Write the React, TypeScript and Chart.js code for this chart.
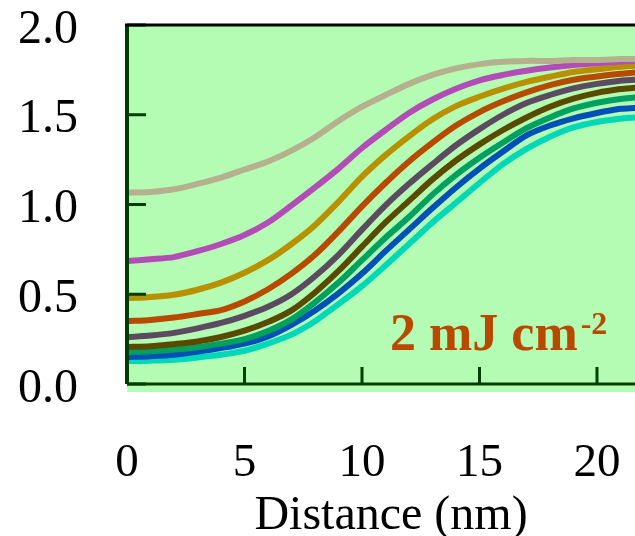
import React, { useEffect, useRef } from "react";
import { Chart, registerables } from "chart.js";

Chart.register(...registerables);

// ---- data ----
const distance = [0, 1, 2, 3, 4, 5, 6, 7, 8, 9, 10, 11, 12, 13, 14, 15, 16, 17, 18, 19, 20, 21, 21.6];

const curveTan = [1.065, 1.07, 1.085, 1.115, 1.15, 1.195, 1.24, 1.3, 1.375, 1.465, 1.545, 1.61, 1.672, 1.722, 1.758, 1.782, 1.795, 1.8, 1.8, 1.805, 1.805, 1.81, 1.81];
const curveMagenta = [0.685, 0.695, 0.707, 0.74, 0.78, 0.83, 0.9, 0.995, 1.095, 1.2, 1.315, 1.415, 1.51, 1.585, 1.645, 1.692, 1.722, 1.745, 1.763, 1.777, 1.787, 1.797, 1.8];
const curveGold = [0.478, 0.485, 0.497, 0.525, 0.565, 0.62, 0.69, 0.78, 0.885, 1.015, 1.155, 1.275, 1.38, 1.475, 1.548, 1.6, 1.645, 1.683, 1.712, 1.738, 1.753, 1.767, 1.773];
const curveOrange = [0.35, 0.357, 0.37, 0.39, 0.412, 0.46, 0.528, 0.615, 0.72, 0.85, 0.99, 1.12, 1.24, 1.345, 1.44, 1.515, 1.575, 1.625, 1.665, 1.695, 1.713, 1.728, 1.735];
const curvePurple = [0.261, 0.27, 0.285, 0.31, 0.34, 0.38, 0.43, 0.5, 0.6, 0.72, 0.86, 0.995, 1.115, 1.225, 1.33, 1.42, 1.5, 1.565, 1.61, 1.647, 1.672, 1.69, 1.695];
const curveOlive = [0.206, 0.21, 0.222, 0.237, 0.262, 0.297, 0.345, 0.41, 0.51, 0.63, 0.765, 0.9, 1.02, 1.14, 1.245, 1.335, 1.415, 1.485, 1.545, 1.59, 1.622, 1.643, 1.65];
const curveGreen = [0.178, 0.183, 0.192, 0.205, 0.225, 0.25, 0.295, 0.36, 0.455, 0.565, 0.69, 0.815, 0.93, 1.055, 1.165, 1.26, 1.345, 1.425, 1.485, 1.535, 1.567, 1.588, 1.596];
const curveBlue = [0.15, 0.155, 0.163, 0.18, 0.2, 0.225, 0.265, 0.33, 0.41, 0.505, 0.615, 0.74, 0.86, 0.98, 1.095, 1.2, 1.295, 1.385, 1.44, 1.48, 1.51, 1.533, 1.538];
const curveCyan = [0.128, 0.13, 0.135, 0.148, 0.163, 0.185, 0.225, 0.275, 0.35, 0.445, 0.545, 0.66, 0.78, 0.9, 1.01, 1.12, 1.225, 1.31, 1.378, 1.43, 1.46, 1.478, 1.485];

const seriesValues = [curveTan, curveMagenta, curveGold, curveOrange, curvePurple, curveOlive, curveGreen, curveBlue, curveCyan];
const seriesColors = ["#b5b08e", "#b44cb8", "#b89000", "#b84a00", "#5c4a60", "#5a4a00", "#00a060", "#0050b8", "#00d8b8"];

const yTicks = [0, 0.5, 1.0, 1.5, 2.0];
const xTicks = [0, 5, 10, 15, 20];
const xTitle = "Distance (nm)";
const noteMain = "2 mJ cm";
const noteSup = "-2";

const BG = "#b4fcb4";
const AXIS = "#003d00";
const SERIF = '"Liberation Serif", "Times New Roman", serif';

const decor = {
  id: "decor",
  beforeDraw(chart: any) {
    const { ctx, chartArea } = chart;
    const { left, top, right, bottom } = chartArea;
    ctx.save();
    ctx.fillStyle = BG;
    ctx.fillRect(left, top, right - left, bottom - top + 8);
    ctx.restore();
  },
  afterDatasetsDraw(chart: any) {
    const { ctx, chartArea } = chart;
    const { left, top, right, bottom } = chartArea;
    const xs = chart.scales.x;
    const ys = chart.scales.y;
    ctx.save();
    ctx.strokeStyle = AXIS;
    ctx.lineWidth = 3;
    ctx.lineCap = "butt";
    ys.ticks.forEach((t: any) => {
      const py = ys.getPixelForValue(t.value);
      ctx.beginPath();
      ctx.moveTo(left, py);
      ctx.lineTo(left + 19, py);
      ctx.stroke();
    });
    xs.ticks.forEach((t: any) => {
      const px = xs.getPixelForValue(t.value);
      ctx.beginPath();
      ctx.moveTo(px, bottom);
      ctx.lineTo(px, bottom - 17);
      ctx.stroke();
    });
    // left & bottom axes
    ctx.lineWidth = 4;
    ctx.beginPath();
    ctx.moveTo(left, top);
    ctx.lineTo(left, bottom);
    ctx.stroke();
    ctx.lineWidth = 3;
    ctx.beginPath();
    ctx.moveTo(left, bottom);
    ctx.lineTo(right, bottom);
    ctx.stroke();
    // top border
    ctx.strokeStyle = "#000000";
    ctx.lineWidth = 3;
    ctx.beginPath();
    ctx.moveTo(left - 2, top);
    ctx.lineTo(right, top);
    ctx.stroke();
    // annotation
    ctx.fillStyle = "#b84a00";
    ctx.textAlign = "left";
    ctx.textBaseline = "alphabetic";
    ctx.font = `bold 52px ${SERIF}`;
    const x0 = 390;
    ctx.fillText(noteMain, x0, 350);
    const w = ctx.measureText(noteMain).width;
    ctx.font = `bold 32px ${SERIF}`;
    ctx.fillText(noteSup, x0 + w + 3, 334);
    ctx.restore();
  },
};

export default function App() {
  const ref = useRef<HTMLCanvasElement | null>(null);

  useEffect(() => {
    if (!ref.current) return;
    const datasets = seriesValues.map((vals, i) => ({
      label: `s${i}`,
      data: vals.map((v, j) => ({ x: distance[j], y: v })),
      borderColor: seriesColors[i],
      backgroundColor: seriesColors[i],
      borderWidth: 6,
      pointRadius: 0,
      tension: 0.3,
      fill: false,
      borderCapStyle: "round" as const,
    }));
    const chart = new Chart(ref.current, {
      type: "line",
      data: { datasets },
      options: {
        responsive: false,
        animation: false,
        layout: { padding: { top: 25, left: 0, right: 0, bottom: 0 } },
        plugins: { legend: { display: false }, tooltip: { enabled: false } },
        scales: {
          x: {
            type: "linear",
            min: 0,
            max: (655 - 127) / 23.5,
            afterBuildTicks: (s: any) => {
              s.ticks = xTicks.map((v) => ({ value: v }));
            },
            afterFit: (s: any) => {
              s.height = 152;
              s.paddingLeft = 0;
              s.paddingRight = 0;
            },
            grid: { display: false, drawTicks: false },
            border: { display: false },
            ticks: {
              padding: 51,
              color: "#000",
              font: { family: SERIF, size: 47 },
              maxRotation: 0,
              callback: (v: any) => String(v),
            },
            title: {
              display: true,
              text: xTitle,
              color: "#000",
              font: { family: SERIF, size: 48, lineHeight: 0.8 },
              padding: 0,
            },
          },
          y: {
            min: 0,
            max: 2,
            afterBuildTicks: (s: any) => {
              s.ticks = yTicks.map((v) => ({ value: v }));
            },
            afterFit: (s: any) => {
              s.width = 127;
              s.paddingTop = 0;
              s.paddingBottom = 0;
            },
            grid: { display: false, drawTicks: false },
            border: { display: false },
            ticks: {
              padding: 49,
              color: "#000",
              font: { family: SERIF, size: 48, lineHeight: "10px" },
              callback: (v: any) => ["", Number(v).toFixed(1)],
            },
          },
        },
      },
      plugins: [decor],
    });
    return () => chart.destroy();
  }, []);

  return (
    <div style={{ position: "fixed", left: 0, top: 0, width: 635, height: 536, overflow: "hidden", background: "#fff" }}>
      <canvas ref={ref} width={655} height={536} style={{ display: "block", width: 655, height: 536 }} />
    </div>
  );
}
